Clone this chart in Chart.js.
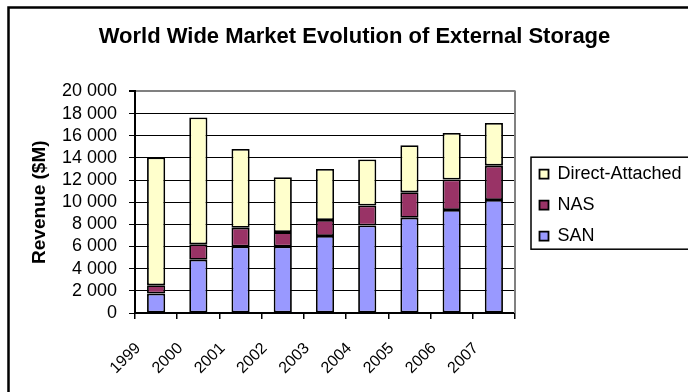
<!DOCTYPE html>
<html><head><meta charset="utf-8">
<script src="https://cdn.jsdelivr.net/npm/chart.js@4"></script>
<style>
html,body{margin:0;padding:0;overflow:hidden;background:#fff;width:688px;height:392px}
#wrap{position:absolute;left:0;top:0;width:709px;height:392px}
</style></head><body>
<div id="wrap"><canvas id="c" width="709" height="392"></canvas></div>
<script>
const years = ['1999','2000','2001','2002','2003','2004','2005','2006','2007'];
const san = [1750, 4800, 6000, 6000, 6950, 7900, 8600, 9300, 10200];
const nas = [750, 1400, 1700, 1300, 1450, 1800, 2300, 2750, 3100];
const directAttached = [11550, 11450, 7100, 4950, 4600, 4150, 4250, 4200, 3850];
const seriesNames = ['SAN', 'NAS', 'Direct-Attached'];
const yAxisTitle = 'Revenue ($M)';
const chartTitle = 'World Wide Market Evolution of External Storage';

const FONT = "'Liberation Sans', Arial, sans-serif";
Chart.defaults.color = '#000';
Chart.defaults.font.family = FONT;

function fmt(v){ return String(v).replace(/\B(?=(\d{3})+(?!\d))/g, ' '); }

const framePlugin = {
  id: 'frame',
  afterLayout(chart){
    const lg = chart.legend;
    lg.left += 11.5; lg.right += 80; lg.top += 3; lg.bottom += 3;
    const t = chart.titleBlock;
    if (t) { t.left += 22; t.right += 22; }
  },
  beforeDraw(chart){
    const ctx = chart.ctx;
    ctx.save();
    ctx.fillStyle = '#fff';
    ctx.fillRect(0, 0, chart.width, chart.height);
    ctx.strokeStyle = '#000';
    ctx.lineWidth = 2.5;
    ctx.strokeRect(8.5, 7.5, 1000, 1000);
    ctx.restore();
  },
  beforeDatasetsDraw(chart){
    const a = chart.chartArea, ctx = chart.ctx;
    ctx.save();
    ctx.strokeStyle = '#808080';
    ctx.lineWidth = 2;
    ctx.beginPath();
    ctx.moveTo(a.right, a.top - 1);
    ctx.lineTo(a.right, a.bottom);
    ctx.stroke();
    ctx.restore();
  },
  afterDraw(chart){
    const lg = chart.legend, ctx = chart.ctx;
    const cy = (lg.top + lg.bottom) / 2 - 2;
    ctx.save();
    ctx.strokeStyle = '#000';
    ctx.lineWidth = 1.5;
    ctx.strokeRect(lg.left + 4.5, cy - 46, 400, 92);
    ctx.restore();
  }
};

new Chart(document.getElementById('c'), {
  type: 'bar',
  data: {
    labels: years,
    datasets: [
      { label: seriesNames[0], data: san, backgroundColor: '#9999FF' },
      { label: seriesNames[1], data: nas, backgroundColor: '#993366' },
      { label: seriesNames[2], data: directAttached, backgroundColor: '#FFFFCC' }
    ].map(d => Object.assign(d, {
      borderColor: '#000', borderWidth: 1.8, borderSkipped: false,
      barPercentage: 0.43, categoryPercentage: 1
    }))
  },
  options: {
    responsive: false,
    animation: false,
    events: [],
    layout: { padding: { left: 0, top: 0, right: 44, bottom: 0 } },
    plugins: {
      title: {
        display: true, text: chartTitle,
        font: { size: 22, weight: 'bold', family: FONT },
        color: '#000',
        padding: { top: 24, bottom: 41 }
      },
      legend: {
        position: 'right', fullSize: false, reverse: true, maxWidth: 150,
        labels: {
          boxWidth: 9, boxHeight: 9, padding: 13,
          font: { size: 18, family: FONT }, color: '#000'
        }
      },
      tooltip: { enabled: false }
    },
    scales: {
      x: {
        stacked: true,
        offset: true,
        grid: { offset: true, drawOnChartArea: false, drawTicks: true, tickLength: 6, color: '#000', lineWidth: 1.5 },
        border: { color: '#000', width: 2 },
        ticks: {
          autoSkip: false, minRotation: 45, maxRotation: 45,
          labelOffset: -18, padding: 20,
          font: { size: 16, family: FONT }, color: '#000'
        },
        afterFit(s){ s.height = 79; }
      },
      y: {
        stacked: true,
        min: 0, max: 20000,
        grid: {
          color: c => (c.tick && c.tick.value === 20000) ? '#808080' : '#000',
          lineWidth: c => (c.tick && c.tick.value === 20000) ? 2 : 1,
          tickColor: '#000', tickLength: 6, drawTicks: true
        },
        border: { color: '#000', width: 2 },
        ticks: {
          stepSize: 2000, autoSkip: false, padding: 12,
          font: { size: 18, family: FONT }, color: '#000',
          callback: v => fmt(v)
        },
        title: {
          display: true, text: yAxisTitle,
          font: { size: 19, weight: 'bold', family: FONT }, color: '#000',
          padding: { top: 28, bottom: 0 }
        },
        afterFit(s){ s.width = 135; }
      }
    }
  },
  plugins: [framePlugin]
});
</script>
</body></html>
